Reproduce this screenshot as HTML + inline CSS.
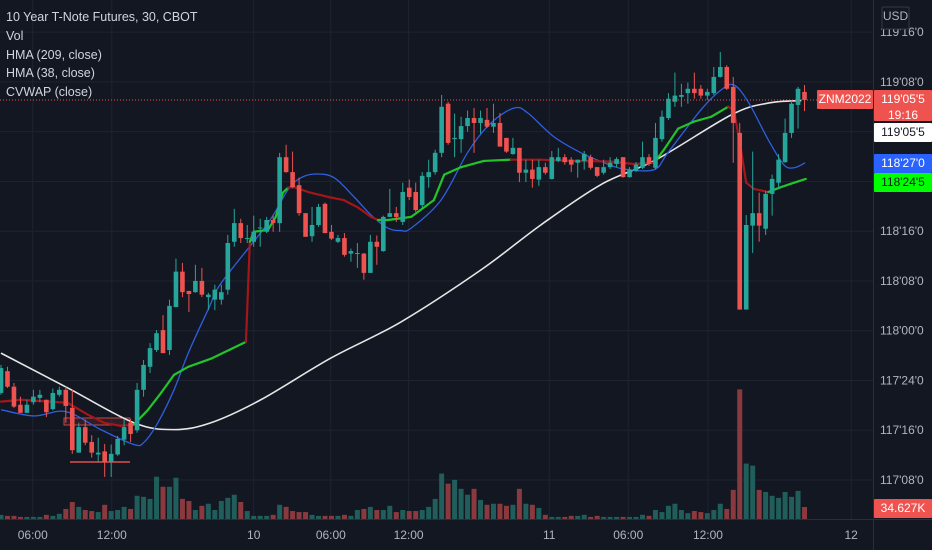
<!DOCTYPE html>
<html><head><meta charset="utf-8"><style>
html,body{margin:0;padding:0;background:#131722;}
body{width:932px;height:550px;overflow:hidden;font-family:"Liberation Sans",sans-serif;}
#legend{position:absolute;left:6px;top:8px;color:#d1d4dc;font-size:12.5px;line-height:18.8px;}
</style></head><body>
<svg id="chart" width="932" height="550" style="position:absolute;left:0;top:0" xmlns="http://www.w3.org/2000/svg"></svg>
<div id="legend">
<div>10 Year T-Note Futures, 30, CBOT</div>
<div>Vol</div>
<div>HMA (209, close)</div>
<div>HMA (38, close)</div>
<div>CVWAP (close)</div>
</div>
<script>
// prices in 32nds above 117'00
const opens=[22.0,25.5,23.0,20.1,18.8,20.5,21.2,20.9,19.4,21.7,22.5,19.6,12.4,16.5,14.1,12.1,12.6,10.9,12.1,14.5,17.2,16.0,22.5,26.2,28.9,32.1,28.9,35.8,41.5,38.4,38.2,40.0,37.4,37.0,37.0,38.6,46.3,49.3,46.8,46.3,48.5,47.9,49.8,49.3,59.9,57.5,55.4,50.9,47.2,49.0,52.4,47.9,46.3,46.9,44.4,44.4,44.4,41.3,46.3,44.8,50.3,50.9,49.5,55.0,54.3,52.2,56.7,57.5,60.6,68.5,62.8,62.8,64.9,66.2,65.4,65.9,64.8,65.4,63.0,60.4,61.4,57.4,57.9,56.3,58.3,56.4,59.3,59.9,59.5,59.0,59.3,59.9,58.3,57.4,58.3,58.8,59.9,56.7,57.7,58.2,59.9,58.2,62.8,66.2,68.8,69.6,70.2,70.9,70.9,69.8,70.2,72.8,74.4,71.2,63.8,35.4,48.9,50.9,48.4,54.0,55.8,59.1,63.8,68.3,70.4];
const highs=[26.5,26.2,23.6,21.4,20.9,22.5,22.5,20.9,22.7,23.0,23.0,22.5,17.2,17.7,15.2,14.8,13.8,13.7,15.1,17.8,17.8,23.6,27.3,30.0,32.1,34.5,37.0,43.6,42.9,38.4,42.6,42.1,38.1,39.4,39.4,47.4,51.6,50.0,49.0,50.5,50.0,50.3,50.5,60.6,61.9,60.8,56.6,50.9,51.9,52.4,52.6,49.0,47.4,47.7,45.2,46.1,44.5,47.4,47.3,50.5,54.8,51.9,55.8,56.3,55.8,57.5,59.5,61.1,69.9,68.8,66.9,66.4,67.4,67.8,67.4,67.8,68.5,67.0,63.0,63.0,61.4,59.5,59.5,59.5,59.0,60.9,61.4,60.4,59.9,59.5,60.9,60.3,58.3,59.5,59.9,59.9,59.9,58.3,59.1,62.4,60.4,65.4,67.4,70.2,73.5,71.7,71.9,73.5,71.5,70.9,74.4,76.8,74.7,72.8,65.4,50.6,60.8,54.2,54.5,57.1,60.4,66.1,69.0,71.2,71.5];
const lows=[21.7,22.8,19.6,18.8,18.8,20.1,20.5,18.1,19.2,21.4,17.2,12.2,12.4,13.6,11.6,10.9,8.5,8.5,11.9,13.6,14.1,15.6,21.4,25.2,28.6,28.4,28.1,35.8,37.4,35.0,38.1,37.4,35.3,35.3,36.2,37.8,45.5,46.1,46.1,45.5,45.5,47.7,47.9,47.9,57.4,54.9,50.5,47.1,46.3,48.7,47.7,46.6,46.1,43.9,43.1,42.1,40.2,41.3,42.6,44.7,50.3,49.5,49.0,53.0,51.1,51.8,55.0,57.1,59.9,61.9,59.9,60.6,64.0,60.6,63.7,64.6,63.8,61.6,60.6,60.3,55.9,55.9,55.0,55.3,57.1,56.3,59.1,58.7,57.5,56.6,57.9,57.9,56.7,57.1,58.0,58.3,56.6,56.6,57.5,58.0,58.5,57.9,62.4,65.9,68.0,68.0,68.5,69.3,69.3,69.1,69.9,72.7,70.7,59.0,35.4,35.4,44.5,46.3,47.4,50.5,54.8,59.0,63.0,64.5,67.3];
const closes=[26.0,23.0,19.8,18.8,20.1,21.4,21.7,18.9,22.0,22.5,19.9,12.8,16.5,14.0,12.4,12.4,10.9,12.2,14.6,16.5,15.4,22.5,26.5,29.2,31.6,28.4,36.0,41.5,38.2,37.9,40.0,37.8,37.8,38.6,38.2,46.1,49.3,46.9,46.9,47.9,48.6,49.8,49.3,59.9,57.5,55.1,50.9,47.1,49.0,51.9,47.7,46.8,46.9,44.2,44.8,44.5,41.3,46.3,45.5,50.3,50.9,50.3,54.3,53.5,51.4,56.9,57.5,60.6,68.0,62.2,63.0,64.9,66.2,65.4,66.2,64.8,65.4,61.6,60.8,61.4,57.4,57.9,56.4,58.3,57.4,59.9,59.9,59.1,58.7,59.5,60.4,58.2,56.9,58.3,59.0,59.6,56.7,57.9,58.7,59.9,58.8,63.0,66.4,69.3,69.8,69.9,70.9,70.2,69.8,70.4,72.8,74.4,70.9,65.4,35.4,49.0,50.9,48.9,54.0,56.4,59.5,63.8,68.5,70.9,69.1];
// volume in K
const volumes=[12,9,9,6,6,6,6,12,9,15,29,49,35,26,23,20,41,23,26,35,29,67,64,58,122,93,93,119,58,52,26,38,44,26,52,61,70,49,23,9,9,9,12,41,35,23,20,20,12,9,9,9,9,12,9,26,29,35,26,26,38,20,26,23,23,26,35,58,131,102,113,87,70,87,55,41,44,44,38,41,87,44,41,32,12,6,6,6,9,9,12,6,9,6,6,6,6,6,6,12,9,26,20,38,44,26,17,23,20,17,26,44,29,84,374,160,154,84,78,67,61,78,64,81,34.6];
const hma209Idx=[0,10.3,20.5,26.7,32.4,40.1,50.9,61.7,74.1,83.3,92.6,101.1,112.7,118.4,123.5];
const hma209Val=[28.4,22.8,17.2,16.1,17.2,20.9,27.6,33.4,41.8,49.0,55.5,59.5,66.7,68.6,69.0];
const hma38Idx=[0,5.1,10.0,15.4,20.5,22.1,24.2,26.7,28.9,32.1,34.0,41.2,44.3,46.3,48.6,51.4,54.5,57.1,59.7,61.7,63.3,67.9,72.1,75.6,79.2,81.3,85.3,89.5,93.1,96.1,100.8,102.9,108.0,111.1,113.1,115.3,118.4,120.8,122.4,124.1];
const hma38Val=[19.3,18.3,19.0,16.1,13.7,14.1,17.2,22.5,28.4,35.7,39.7,49.3,54.7,56.6,57.2,56.6,53.5,50.6,48.5,48.1,48.5,53.0,60.8,65.4,67.8,67.0,63.2,60.6,59.0,58.0,57.9,60.6,67.5,70.7,71.5,68.8,62.7,58.7,58.2,59.0];
const cvwapIdx=[0,3.1,10.3,13.4,15.9,18.5,20.5,22.7,24.7,26.7,28.9,32.4,37.8,38.4,39.0,41.2,42.4,43.5,44.3,45.2,47.4,50.5,52.9,55.1,57.1,58.2,59.7,63.3,66.8,68.4,71.0,74.5,78.7,83.3,88.4,94.1,97.7,100.8,102.3,104.5,106.9,109.6,112.2,113.1,114.2,115.0,116.2,118.4,120.4,122.4,124.2];
const cvwapVal=[20.6,20.9,20.4,18.5,17.2,16.7,16.9,19.3,22.0,24.9,26.2,27.5,30.2,46.3,47.9,48.2,50.3,54.2,55.0,55.1,54.3,53.5,53.0,51.8,50.3,49.8,49.8,50.3,53.0,57.1,58.3,59.3,59.5,59.5,59.3,59.2,58.8,59.0,61.1,64.5,65.6,66.4,68.0,67.5,61.1,55.8,54.8,54.3,55.1,55.8,56.4];
const cvwapSide=[1,-1,-1,-1,-1,-1,-1,1,1,1,1,1,1,-1,1,1,1,1,1,-1,-1,-1,-1,-1,-1,-1,1,1,1,1,1,1,1,-1,-1,-1,-1,-1,1,1,1,1,1,-1,-1,-1,-1,-1,1,1,1];
const priceTicks=["119'16'0","119'08'0","119'00'0","118'24'0","118'16'0","118'08'0","118'00'0","117'24'0","117'16'0","117'08'0"];
const priceTickVals=[80,72,64,56,48,40,32,24,16,8];
const timeLabels=["06:00","12:00","10","06:00","12:00","11","06:00","12:00","12"];
const timeLabelIdx=[4.9,17.1,39.0,50.9,62.9,84.6,96.8,109.1,131.2];

const NS="http://www.w3.org/2000/svg";
const svg=document.getElementById('chart');
const X=i=>1+6.48*i;
const Y=t=>480-(t-8)*6.22;
const VY=v=>519-v/2.885;
function el(tag,attrs,parent){const e=document.createElementNS(NS,tag);for(const k in attrs)e.setAttribute(k,attrs[k]);(parent||svg).appendChild(e);return e;}
function fmt(t){return t;}

// grid
const grid=el('g',{});


priceTickVals.forEach(v=>{const l=el('line',{x1:0,x2:873,y1:Y(v),y2:Y(v),stroke:'#1f2330','stroke-width':1},grid);

});
timeLabelIdx.forEach(i=>{const l=el('line',{x1:X(i),x2:X(i),y1:0,y2:519,stroke:'#1f2330','stroke-width':1},grid);

});

// volume
const vg=el('g',{});


volumes.forEach((v,i)=>{const up=closes[i]>=opens[i];
const r=el('rect',{x:X(i)-2.5,y:VY(v),width:5,height:519-VY(v),fill:up?'#1f5e5a':'#8a3a3e'},vg);

});

// drawings (horizontal range lines)
const d1=el('rect',{x:64,y:418,width:66,height:7,fill:'rgba(239,83,80,0.12)',stroke:'#c4474a','stroke-width':1});


const d2=el('line',{x1:70,x2:130,y1:462,y2:462,stroke:'#d9514f','stroke-width':1.5});



function smoothPath(xs,ys){let d='M'+xs[0]+','+ys[0];for(let k=0;k<xs.length-1;k++){const x0=xs[k-1]??xs[k],y0=ys[k-1]??ys[k],x3=xs[k+2]??xs[k+1],y3=ys[k+2]??ys[k+1];
const c1x=xs[k]+(xs[k+1]-x0)/6,c1y=ys[k]+(ys[k+1]-y0)/6,c2x=xs[k+1]-(x3-xs[k])/6,c2y=ys[k+1]-(y3-ys[k])/6;
d+=' C'+c1x+','+c1y+' '+c2x+','+c2y+' '+xs[k+1]+','+ys[k+1];}return d;}

// HMA 209
const p1=el('path',{d:smoothPath(hma209Idx.map(X),hma209Val.map(Y)),fill:'none',stroke:'#e6e6e6','stroke-width':1.6});


// HMA 38
const p2=el('path',{d:smoothPath(hma38Idx.map(X),hma38Val.map(Y)),fill:'none',stroke:'#2e5fe0','stroke-width':1.3});


// CVWAP
const cg=el('g',{});


for(let k=1;k<cvwapIdx.length;k++){const s=el('line',{x1:X(cvwapIdx[k-1]),y1:Y(cvwapVal[k-1]),x2:X(cvwapIdx[k]),y2:Y(cvwapVal[k]),stroke:cvwapSide[k]>0?'#22c42a':'#a3161a','stroke-width':2.2,'stroke-linecap':'round'},cg);

}

// candles
const kg=el('g',{});


opens.forEach((o,i)=>{const c=closes[i],up=c>=o,col=up?'#26a69a':'#ef5350',x=X(i);
const g=el('g',{},kg);


el('line',{x1:x,x2:x,y1:Y(highs[i]),y2:Y(lows[i]),stroke:col,'stroke-width':1},g);
const top=Y(Math.max(o,c)),bot=Y(Math.min(o,c));
el('rect',{x:x-2.3,y:top,width:4.6,height:Math.max(1,bot-top),fill:col},g);});

// last price dotted line
const lp=el('line',{x1:0,x2:873,y1:Y(closes[closes.length-1]),y2:Y(closes[closes.length-1]),stroke:'#ef5350','stroke-width':1,'stroke-dasharray':'1,2'});



// axes borders
el('line',{x1:873.5,x2:873.5,y1:0,y2:550,stroke:'#2a2e39'});
el('line',{x1:0,x2:932,y1:519.5,y2:519.5,stroke:'#2a2e39'});

// price labels
const ag=el('g',{'font-size':12,fill:'#b2b5be','font-family':'Liberation Sans, sans-serif'});


priceTicks.forEach((s,k)=>{const t=el('text',{x:880,y:Y(priceTickVals[k])+4},ag);t.textContent=s;

});
const tg=el('g',{'font-size':12,fill:'#b2b5be','font-family':'Liberation Sans, sans-serif','text-anchor':'middle'});


timeLabels.forEach((s,k)=>{const t=el('text',{x:X(timeLabelIdx[k]),y:539},tg);t.textContent=s;

});

// boxes
function box(name,x,y,w,h,fill,txt,tc,extra){const g=el('g',{});


el('rect',{x:x,y:y,width:w,height:h,fill:fill,rx:1},g);
txt.forEach((s,k)=>{const t=el('text',{x:x+w/2,y:y+13+k*16,'text-anchor':'middle','font-size':12,fill:tc,'font-family':'Liberation Sans, sans-serif'},g);t.textContent=s;});return g;}
box('usd-currency-label',882,7,27,22,'#131722',['USD'],'#b2b5be').querySelector('rect').setAttribute('stroke','#363a45');
box('symbol-name-tag',817,90,56,19,'#ef5350',['ZNM2022'],'#ffffff');
box('last-price-tag',874,90,58,31,'#ef5350',["119'05'5","19:16"],'#ffffff');
box('hma-209-value-tag',874,123,58,19,'#ffffff',["119'05'5"],'#131722');
box('hma-38-value-tag',874,154,58,19,'#2962ff',["118'27'0"],'#ffffff');
box('cvwap-value-tag',874,173,58,19,'#00ff00',["118'24'5"],'#131722');
box('volume-value-tag',874,499,58,19,'#ef5350',["34.627K"],'#ffffff');
</script>
</body></html>
